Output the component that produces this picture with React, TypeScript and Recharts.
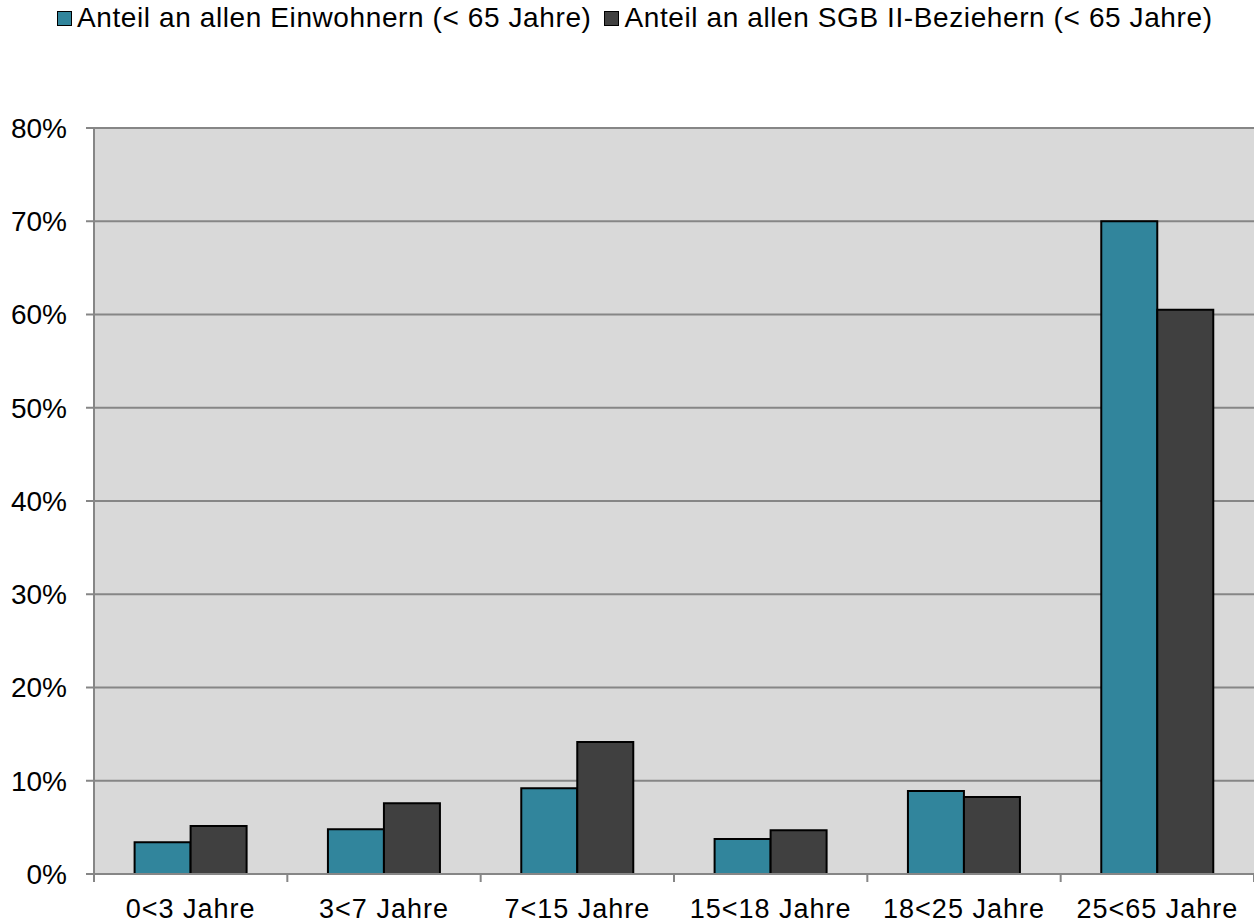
import React from "react";
import { BarChart, Bar, XAxis, YAxis, CartesianGrid } from "recharts";

const categories = ["0<3 Jahre", "3<7 Jahre", "7<15 Jahre", "15<18 Jahre", "18<25 Jahre", "25<65 Jahre"];
const einwohner = [3.4, 4.8, 9.2, 3.75, 8.9, 70.0];
const sgb = [5.15, 7.6, 14.15, 4.7, 8.25, 60.5];
const yTicks = [0, 10, 20, 30, 40, 50, 60, 70, 80];
const seriesNames = ["Anteil an allen Einwohnern (< 65 Jahre)", "Anteil an allen SGB II-Beziehern (< 65 Jahre)"];

const data = categories.map((c, i) => ({ cat: c, a: einwohner[i], b: sgb[i] }));

const TEAL = "#31859c";
const DARK = "#404040";
const AXIS = "#868686";
const FONT = "'Liberation Sans', Arial, sans-serif";

const XTick = (props: any) => {
  const { x, y, payload, index } = props;
  const off = payload.offset ?? 0;
  return (
    <g>
      <line x1={x - off} x2={x - off} y1={y - 8} y2={y} stroke={AXIS} strokeWidth={2} />
      {index === categories.length - 1 && (
        <line x1={x + off} x2={x + off} y1={y - 8} y2={y} stroke={AXIS} strokeWidth={2} />
      )}
      <text x={x} y={y + 36} textAnchor="middle" fontSize={27} letterSpacing={1} fontFamily={FONT} fill="#000">
        {payload.value}
      </text>
    </g>
  );
};

const LegendBlock = () => (
  <div style={{ position: "absolute", top: 2, left: 57, display: "flex", alignItems: "center", fontFamily: FONT, fontSize: 28, letterSpacing: 0.6, color: "#000", whiteSpace: "nowrap" }}>
    {[TEAL, DARK].map((col, i) => (
      <span key={i} style={{ display: "inline-flex", alignItems: "center", marginRight: i === 0 ? 13 : 0 }}>
        <span style={{ display: "inline-block", boxSizing: "border-box", width: 15, height: 15, background: col, border: "1.5px solid #000", marginRight: 5 }} />
        {seriesNames[i]}
      </span>
    ))}
  </div>
);

export default function App() {
  return (
    <div style={{ position: "absolute", left: 0, top: 0, width: 1254, height: 924, background: "#fff" }}>
      <LegendBlock />
      <BarChart
        width={1254}
        height={924}
        data={data}
        margin={{ top: 128, right: 0, bottom: 0, left: 0 }}
        barCategoryGap="21%"
        barGap={0}
      >
        <CartesianGrid vertical={false} stroke={AXIS} strokeWidth={2} fill="#d9d9d9" fillOpacity={1} />
        <XAxis
          dataKey="cat"
          height={50}
          axisLine={{ stroke: AXIS, strokeWidth: 2 }}
          tickLine={false}
          tick={<XTick />}
          interval={0}
        />
        <YAxis
          width={94}
          domain={[0, 80]}
          ticks={yTicks}
          tickFormatter={(v: number) => `${v}%`}
          axisLine={{ stroke: AXIS, strokeWidth: 2 }}
          tickLine={{ stroke: AXIS, strokeWidth: 2 }}
          tickSize={8}
          tickMargin={19}
          tick={{ fontSize: 28, fontFamily: FONT, fill: "#000" }}
          interval={0}
        />
        <Bar dataKey="a" name={seriesNames[0]} fill={TEAL} stroke="#000" strokeWidth={2} isAnimationActive={false} />
        <Bar dataKey="b" name={seriesNames[1]} fill={DARK} stroke="#000" strokeWidth={2} isAnimationActive={false} />
      </BarChart>
    </div>
  );
}
